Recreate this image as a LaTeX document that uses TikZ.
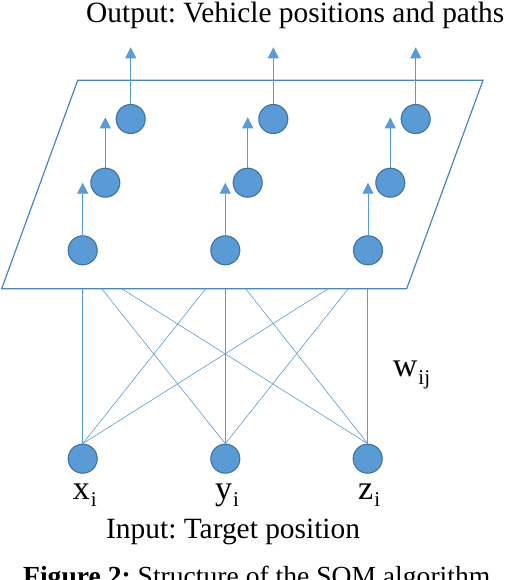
\documentclass[tikz,border=0pt]{standalone}
\usepackage{fontspec}
\setmainfont{Liberation Serif}
\usetikzlibrary{arrows.meta}
\definecolor{nodefill}{HTML}{5B9BD5}
\definecolor{nodeedge}{HTML}{41719C}
\definecolor{linkc}{HTML}{5B9BD5}
\definecolor{planec}{HTML}{4A85C0}
\tikzset{
  neuron/.style={circle, fill=nodefill, draw=nodeedge, line width=1.1pt, minimum size=29pt, inner sep=0pt},
  uparrow/.style={draw=linkc, line width=0.8pt, -{Triangle[width=11pt,length=11pt]}, color=linkc},
  link/.style={draw=linkc, line width=0.6pt},
  plane/.style={draw=planec, line width=1.2pt},
  txt/.style={inner sep=0pt, anchor=base west},
}
\newcommand{\sublab}[2]{\fontsize{34}{36}\selectfont #1\kern1pt\raisebox{-7.5pt}{\fontsize{21}{23}\selectfont #2}}
\begin{document}
\frenchspacing
\begin{tikzpicture}[x=1pt,y=-1pt]
\useasboundingbox (0,0) rectangle (508,580);
% plane
\draw[plane] (77.7,80.3) -- (483,80.3) -- (406.7,288.7) -- (1.7,288.7) -- cycle;
% map neurons
\node[neuron] (a1) at (82.7,250.3) {};
\node[neuron] (a2) at (105.3,182.7) {};
\node[neuron] (a3) at (130.7,119) {};
\node[neuron] (b1) at (225.3,250.3) {};
\node[neuron] (b2) at (247.7,182.7) {};
\node[neuron] (b3) at (273.3,119) {};
\node[neuron] (c1) at (368,250.3) {};
\node[neuron] (c2) at (390.3,182.7) {};
\node[neuron] (c3) at (415.7,119) {};
% arrow ends
\coordinate (a1t) at (82.7,182.7);
\coordinate (a2t) at (105.3,117.3);
\coordinate (a3t) at (130.7,47.3);
\coordinate (b1t) at (225.3,182.7);
\coordinate (b2t) at (247.7,117.3);
\coordinate (b3t) at (273.3,47.3);
\coordinate (c1t) at (368,182.7);
\coordinate (c2t) at (390.3,117.3);
\coordinate (c3t) at (415.7,47.3);
\foreach \n in {a1,a2,a3,b1,b2,b3,c1,c2,c3}{
  \draw[uparrow] (\n.north) -- (\n t);
}
% input neurons
\node[neuron] (x) at (82.7,458.7) {};
\node[neuron] (y) at (225.3,458.7) {};
\node[neuron] (z) at (367.7,458.7) {};
% plane bottom edge attachment points
\coordinate (p1x) at (82.7,288.7);
\coordinate (p1y) at (101.7,288.7);
\coordinate (p1z) at (121.7,288.7);
\coordinate (p2x) at (205.7,288.7);
\coordinate (p2y) at (225.3,288.7);
\coordinate (p2z) at (245.7,288.7);
\coordinate (p3x) at (328.3,288.7);
\coordinate (p3y) at (348.3,288.7);
\coordinate (p3z) at (367.7,288.7);
\foreach \i in {x,y,z}{
  \foreach \c in {1,2,3}{
    \draw[link] (\i.north) -- (p\c\i);
  }
}
% texts
\node[txt] (out) at (86,22.5) {\fontsize{29.4}{30}\selectfont Output: Vehicle positions and paths};
\node[txt] (inp) at (106,538) {\fontsize{29.4}{30}\selectfont Input: Target position};
\node[txt] (xl) at (72.7,499) {\sublab{x}{i}};
\node[txt] (yl) at (215,499) {\sublab{y}{i}};
\node[txt] (zl) at (358,499) {\sublab{z}{i}};
\node[txt] (wl) at (392.7,376.7) {\sublab{w}{ij}};
\node[txt] (cap) at (23,585.5) {\fontsize{27.6}{29}\selectfont\textbf{Figure 2:} Structure of the SOM algorithm};
\end{tikzpicture}
\end{document}
